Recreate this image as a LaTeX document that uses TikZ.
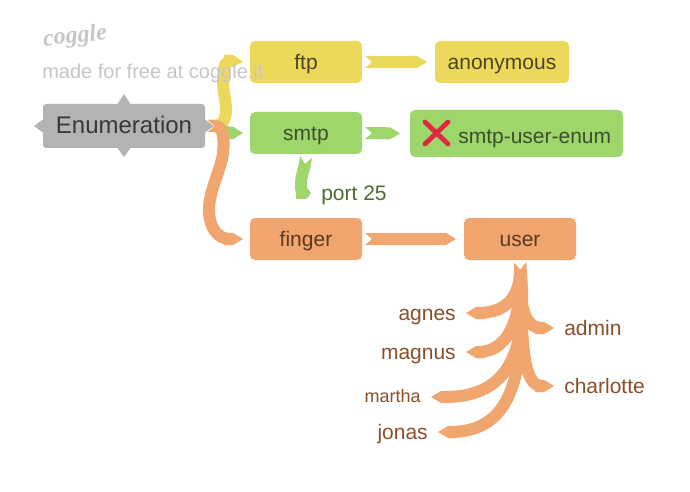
\documentclass[tikz,border=0pt]{standalone}
\usepackage{fontspec}
\setmainfont{Liberation Sans}
\newfontfamily\logofont{Liberation Serif}
\usepackage{xcolor}
\usetikzlibrary{arrows.meta}
\definecolor{rootc}{HTML}{B3B3B3}
\definecolor{yelc}{HTML}{ECD95C}
\definecolor{grnc}{HTML}{9FD66B}
\definecolor{orgc}{HTML}{F1A56F}
\definecolor{yeltx}{HTML}{4A4522}
\definecolor{grntx}{HTML}{3C4F2C}
\definecolor{orgtx}{HTML}{5A3A22}
\definecolor{grnlab}{HTML}{4F6B30}
\definecolor{orglab}{HTML}{8A4F2A}
\definecolor{logoc}{HTML}{C6C6C6}
\definecolor{crossc}{HTML}{E0283F}
\pgfdeclarearrow{
  name=Notch,
  defaults={length=5.25pt,width=9pt},
  setup code={\pgfarrowssettipend{0pt}\pgfarrowssetlineend{-\pgfarrowlength}%
    \pgfarrowssavethe\pgfarrowlength\pgfarrowssavethe\pgfarrowwidth},
  drawing code={%
    \pgfpathmoveto{\pgfqpoint{0pt}{.5\pgfarrowwidth}}%
    \pgfpathlineto{\pgfqpoint{-\pgfarrowlength}{0pt}}%
    \pgfpathlineto{\pgfqpoint{0pt}{-.5\pgfarrowwidth}}%
    \pgfpathlineto{\pgfpointadd{\pgfqpoint{-\pgfarrowlength}{-.5\pgfarrowwidth}}{\pgfqpoint{-.5pt}{0pt}}}%
    \pgfpathlineto{\pgfpointadd{\pgfqpoint{-\pgfarrowlength}{.5\pgfarrowwidth}}{\pgfqpoint{-.5pt}{0pt}}}%
    \pgfpathclose\pgfusepathqfill},
  parameters={\the\pgfarrowlength,\the\pgfarrowwidth}
}
\tikzset{
  hd/.tip={Triangle Cap[length=7.5pt]},
  ar/.style={draw=#1,line width=9pt,line join=round,{Notch}-{hd}},
  box/.style={fill=#1,rounded corners=3.75pt,inner sep=0pt,outer sep=2.25pt,minimum width=84pt,minimum height=31.5pt,
    text height=13pt,text depth=2pt,font=\fontsize{15.75}{18}\selectfont},
  lab/.style={inner sep=7.5pt,text height=12.5pt,text depth=2pt,text=orglab,font=\fontsize{15.75}{18}\selectfont}
}
\begin{document}
\begin{tikzpicture}[x=0.75pt,y=-0.75pt]
\useasboundingbox (0,0) rectangle (690,492);
% root with its four points
\fill[rootc] (43,119.5)--(34,126)--(43,132.5)--cycle;
\fill[rootc] (205,119.5)--(214,126)--(205,132.5)--cycle;
\fill[rootc] (117.5,104)--(124,94)--(130.5,104)--cycle;
\fill[rootc] (117.5,148)--(124,157)--(130.5,148)--cycle;
\node[box=rootc,rounded corners=2.25pt,minimum width=121.5pt,minimum height=33pt,text=black!78,font=\fontsize{18}{21}\selectfont] (root) at (124,126) {Enumeration};
% boxes
\node[box=yelc,text=yeltx] (ftp) at (306,62) {ftp};
\node[box=yelc,minimum width=100.5pt,text=yeltx] (anon) at (502,62) {anonymous};
\node[box=grnc,text=grntx] (smtp) at (306,133) {smtp};
\node[box=grnc,minimum width=159.75pt,minimum height=35.25pt] (enum) at (516.5,133.5) {};
\node[inner sep=0pt,text=grntx,text height=13pt,text depth=2pt,font=\fontsize{15.75}{18}\selectfont,anchor=west] (enumtx) at (458,136) {smtp-user-enum};
\node[box=orgc,text=orgtx] (finger) at (306,239) {finger};
\node[box=orgc,text=orgtx] (user) at (520,239) {user};
\draw[crossc,line width=3.6pt,line cap=round] (425,122)--(448,144) (448,122)--(425,144);
% labels
\node[lab,text=grnlab,anchor=west] (port) at (311,193) {port 25};
\node[lab,anchor=east] (agnes) at (466,313) {agnes};
\node[lab,anchor=east] (magnus) at (466,352) {magnus};
\node[lab,anchor=east,text height=10.5pt,font=\fontsize{13.5}{16}\selectfont] (martha) at (431,397) {martha};
\node[lab,anchor=east] (jonas) at (438,432) {jonas};
\node[lab,anchor=west] (admin) at (554,328) {admin};
\node[lab,anchor=west] (charlotte) at (554,386) {charlotte};
% branches
\draw[ar=grnc,shorten >=3pt] (root.east) .. controls (220,126) and (222,133) .. (232,133) -- (smtp.west);
\draw[ar=yelc,shorten >=3pt] (root.east) .. controls (220,126) and (226,122) .. (226,110) .. controls (226,100) and (223,92) .. (223,82) .. controls (223,70) and (224,61) .. (231,61) -- (ftp.west);
\draw[ar=orgc,shorten >=3pt] (root.east) .. controls (222,126) and (225,135) .. (223,153) .. controls (221,170) and (209,190) .. (209,210) .. controls (209,228) and (218,239) .. (230,239) -- (finger.west);
\draw[ar=yelc,shorten >=3.75pt] (ftp.east) -- (anon.west);
\draw[ar=grnc,shorten >=5.25pt] (smtp.east) -- (enum.west);
\draw[ar=orgc,shorten >=3.75pt] (finger.east) -- (user.west);
\draw[ar=grnc,{Notch}-{Triangle Cap[length=4.5pt]}] (smtp.south) .. controls (304,170) and (301,176) .. (301,183) .. controls (301,189) and (301,193) .. (304,193) -- (port.west);
\foreach \who/\ca/\cb/\cc in {agnes/{(520,298)}/{(505,313)}/{(478,313)},magnus/{(522,325)}/{(505,352)}/{(478,352)},martha/{(528,350)}/{(510,397)}/{(445,397)},jonas/{(527,380)}/{(510,432)}/{(450,432)},admin/{(520,300)}/{(522,328)}/{(542,328)},charlotte/{(522,340)}/{(522,386)}/{(542,386)}}
  \draw[ar=orgc] (user.south) .. controls \ca and \cb .. \cc -- (\who);
% maker's mark
\node[inner sep=0pt,text=logoc,rotate=6,font=\logofont\itshape\bfseries\fontsize{18}{18}\selectfont] (logo) at (75,37) {coggle};
\node[inner sep=0pt,text=logoc,anchor=west,font=\fontsize{15}{18}\selectfont] (made) at (42,73) {made for free at coggle.it};
\end{tikzpicture}
\end{document}
